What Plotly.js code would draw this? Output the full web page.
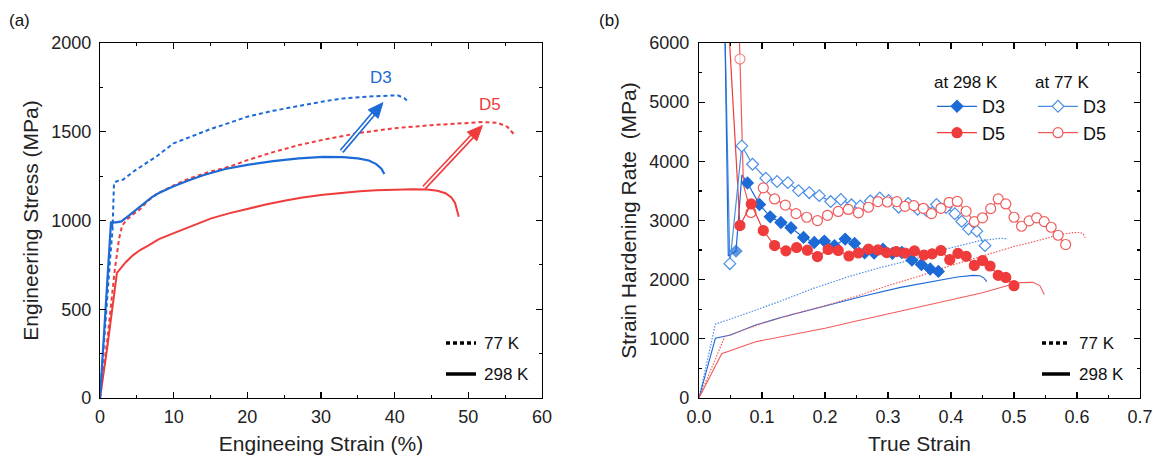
<!DOCTYPE html>
<html><head><meta charset="utf-8">
<script src="https://cdn.plot.ly/plotly-3.0.1.min.js"></script>
<style>html,body{margin:0;padding:0;background:#fff}#chart{width:1153px;height:456px}</style>
</head><body><div id="chart"></div>
<script>
// ---------- Panel (a): engineering stress-strain ----------
const d3_298_strain = [0,0.3,0.8,1.2,1.5,1.6,1.7,2.2,2.9,4,5,6,7,8,9,10,12,14,17,20,23.5,27,30.3,33,35,36.5,37.5,38.2,38.6];
const d3_298_stress = [0,200,530,800,995,960,990,990,995,1030,1065,1100,1130,1155,1175,1193,1225,1255,1290,1313,1335,1350,1358,1357,1350,1338,1318,1292,1262];
const d3_77_strain = [0,0.5,1.0,1.4,1.7,1.9,2.3,3.1,4.5,6,7.7,10,12.2,15,17.7,20,23.5,27,30.3,33,37.1,40.4,41.3,41.9];
const d3_77_stress = [0,300,580,800,946,1212,1222,1229,1275,1318,1362,1435,1470,1515,1552,1585,1618,1647,1671,1688,1700,1705,1690,1666];
const d5_298_strain = [0,0.5,1.0,1.5,2.0,2.3,2.8,3.5,4.5,5.5,6.6,8,10.1,12.5,15.1,17.5,20.2,22.5,25.2,27.5,30.3,33,35.3,37.5,40.3,42.5,44.4,45.8,46.9,47.7,48.2,48.5,48.7];
const d5_298_stress = [0,140,290,450,610,705,730,765,805,835,860,895,930,970,1012,1040,1069,1090,1113,1130,1145,1157,1165,1170,1174,1176,1175,1168,1154,1130,1099,1060,1021];
const d5_77_strain = [0,1.0,2.0,2.6,3.0,3.6,4.5,5.4,6.5,7.7,10,12.2,15,17.7,20,23.5,27,30.3,35,40,45,50,52,54,55.3,56.2];
const d5_77_stress = [0,330,720,900,970,1003,1035,1062,1110,1150,1198,1238,1276,1305,1340,1385,1425,1455,1492,1520,1537,1550,1555,1550,1528,1485];

// ---------- Panel (b): true stress-strain and strain hardening rate ----------
const t_d3_77_e = [0,0.026,0.076,0.13,0.181,0.24,0.29,0.34,0.393,0.446,0.48,0.49];
const t_d3_77_s = [0,1247,1433,1640,1850,2060,2210,2340,2520,2660,2700,2690];
const t_d3_298_e = [0,0.026,0.05,0.09,0.13,0.2,0.26,0.32,0.37,0.41,0.435,0.446,0.452,0.457];
const t_d3_298_s = [0,1010,1065,1235,1360,1560,1720,1870,1970,2045,2072,2065,2030,1966];
const t_d5_77_e = [0,0.041,0.06,0.1,0.15,0.2,0.25,0.3,0.35,0.4,0.45,0.5,0.531,0.573,0.595,0.605,0.61,0.613];
const t_d5_77_s = [0,1040,1110,1260,1420,1560,1720,1900,2060,2240,2400,2560,2640,2764,2795,2798,2770,2710];
const t_d5_298_e = [0,0.036,0.09,0.15,0.2,0.25,0.3,0.35,0.4,0.45,0.49,0.51,0.53,0.541,0.548];
const t_d5_298_s = [0,750,950,1075,1180,1300,1420,1540,1660,1780,1900,1950,1955,1900,1750];

// strain hardening rate, initial drop (line, marker only where flagged)
const sh_d3_298_spike_e = [0.041,0.0465,0.0587,0.068,0.077];
const sh_d3_298_spike_r = [6300,2400,2483,3770,3635];
const sh_d3_298_spike_m = [0,0,1,0,0];
const sh_d3_77_spike_e = [0.041,0.049];
const sh_d3_77_spike_r = [6300,2270];
const sh_d3_77_spike_m = [0,0];
const sh_d5_298_spike_e = [0.047,0.065];
const sh_d5_298_spike_r = [6300,2910];
const sh_d5_298_spike_m = [0,0];
const sh_d5_77_spike_e = [0.0635,0.065,0.0705,0.0825];
const sh_d5_77_spike_r = [6300,5730,3600,3135];
const sh_d5_77_spike_m = [0,1,0,0];

// strain hardening rate with markers
const sh_d3_298_e = [0.077,0.096,0.113,0.130,0.146,0.166,0.183,0.199,0.215,0.232,0.247,0.263,0.278,0.292,0.307,0.322,0.338,0.353,0.367,0.380];
const sh_d3_298_r = [3635,3270,3062,2966,2877,2714,2629,2652,2573,2686,2613,2455,2450,2514,2445,2460,2330,2255,2180,2140];
const sh_d3_77_e = [0.049,0.068,0.085,0.106,0.124,0.141,0.158,0.175,0.191,0.209,0.225,0.242,0.256,0.272,0.287,0.301,0.317,0.332,0.347,0.361,0.377,0.392,0.406,0.417,0.428,0.441,0.454];
const sh_d3_77_r = [2270,4260,3950,3715,3660,3640,3505,3470,3420,3320,3355,3265,3247,3330,3380,3340,3225,3290,3190,3170,3270,3220,3115,2985,2855,2820,2575];
const sh_d5_298_e = [0.065,0.083,0.102,0.120,0.138,0.155,0.172,0.188,0.205,0.221,0.238,0.253,0.269,0.284,0.298,0.313,0.327,0.342,0.357,0.370,0.384,0.398,0.411,0.424,0.437,0.450,0.462,0.475,0.487,0.500];
const sh_d5_298_r = [2915,3280,2830,2577,2487,2544,2498,2390,2510,2493,2400,2451,2515,2502,2457,2474,2450,2485,2416,2436,2493,2338,2445,2395,2240,2324,2231,2072,2038,1898];
const sh_d5_77_e = [0.0825,0.102,0.120,0.137,0.154,0.171,0.188,0.204,0.221,0.237,0.253,0.269,0.284,0.299,0.314,0.327,0.341,0.356,0.369,0.384,0.397,0.410,0.424,0.437,0.450,0.463,0.475,0.487,0.500,0.512,0.524,0.536,0.548,0.559,0.570,0.582];
const sh_d5_77_r = [3135,3552,3364,3260,3116,3055,2998,3088,3153,3187,3130,3224,3319,3313,3319,3240,3252,3206,3116,3206,3308,3322,3156,2981,3046,3201,3364,3280,3055,2903,2993,3046,2981,2886,2751,2594];

// text
const panelLabels = ['(a)','(b)'];
const xTitles = ['Engineeing Strain (%)','True Strain'];
const yTitles = ['Engineering Stress (MPa)','Strain Hardening Rate\u00a0 (MPa)'];
const tempLabels = ['77 K','298 K'];
const sampleLabels = ['D3','D5'];
const legendTitles = ['at 298 K','at 77 K'];

const BLUE='#1c6ad6', BLUEL='#4a8ee6', RED='#ef3b3b', REDL='#f25a5a';
const FONT='Liberation Sans, Arial, sans-serif';

const traces = [];
function line(x,y,color,dash,width,xa,ya){
  traces.push({x:x,y:y,mode:'lines',type:'scatter',xaxis:xa,yaxis:ya,showlegend:false,hoverinfo:'skip',
    line:{color:color,dash:dash,width:width}});
}
// panel (a)
line(d5_298_strain,d5_298_stress,RED,'solid',2,'x','y');
line(d5_77_strain,d5_77_stress,RED,'4px,3px',2,'x','y');
line(d3_77_strain,d3_77_stress,BLUE,'4px,3px',2,'x','y');
line(d3_298_strain,d3_298_stress,BLUE,'solid',2.2,'x','y');
// panel (b) true curves
line(t_d3_77_e,t_d3_77_s,BLUEL,'1.5px,1.5px',1.2,'x2','y2');
line(t_d3_298_e,t_d3_298_s,BLUE,'solid',1.1,'x2','y2');
line(t_d5_77_e,t_d5_77_s,REDL,'1.5px,1.5px',1.2,'x2','y2');
line(t_d5_298_e,t_d5_298_s,REDL,'solid',1.1,'x2','y2');

function spike(e,r,m,color,sym,fill){
  traces.push({x:e,y:r,mode:'lines+markers',type:'scatter',xaxis:'x2',yaxis:'y2',showlegend:false,hoverinfo:'skip',
    line:{color:color,width:1.2},
    marker:{symbol:sym,size:m.map(v=>v?(sym==='diamond'?9:10):0),color:fill,line:{color:color,width:1.2}}});
}
spike(sh_d3_77_spike_e,sh_d3_77_spike_r,sh_d3_77_spike_m,BLUEL,'diamond','#fff');
spike(sh_d3_298_spike_e,sh_d3_298_spike_r,sh_d3_298_spike_m,BLUE,'diamond',BLUE);
spike(sh_d5_77_spike_e,sh_d5_77_spike_r,sh_d5_77_spike_m,REDL,'circle','#fff');
spike(sh_d5_298_spike_e,sh_d5_298_spike_r,sh_d5_298_spike_m,RED,'circle',RED);

function main(e,r,color,sym,fill,name,leg){
  traces.push({x:e,y:r,mode:'lines+markers',type:'scatter',xaxis:'x2',yaxis:'y2',name:name,legend:leg,
    line:{color:color,width:1.2},
    marker:{symbol:sym,size:(sym==='diamond'?9:10),color:fill,line:{color:color,width:1.2}}});
}
main(sh_d3_77_e,sh_d3_77_r,BLUEL,'diamond','#fff',sampleLabels[0],'legend2');
main(sh_d5_77_e,sh_d5_77_r,REDL,'circle','#fff',sampleLabels[1],'legend2');
main(sh_d3_298_e,sh_d3_298_r,BLUE,'diamond',BLUE,sampleLabels[0],'legend');
main(sh_d5_298_e,sh_d5_298_r,RED,'circle',RED,sampleLabels[1],'legend');

// pixel helpers (plot area: top 43, bottom 398)
const W=1153, TOP=43, BOT=398, H=BOT-TOP;
const px=v=>v/W, py=v=>(BOT-v)/H;

const shapes=[], annotations=[];
// arrows in panel (a)
const XS=(542-100)/60, YS=H/2000;
function arrow(x0,y0,x1,y1,color){
  const dx=(x1-x0)*XS, dy=(y1-y0)*YS, L=Math.hypot(dx,dy), ux=dx/L, uy=dy/L;
  const h=15, w=6.5;
  const bx=x1-ux*h/XS, by=y1-uy*h/YS;
  const nx=-uy, ny=ux;
  shapes.push({type:'line',xref:'x',yref:'y',x0:x0,y0:y0,x1:x1-ux*(h-2)/XS,y1:y1-uy*(h-2)/YS,line:{color:color,width:5}});
  shapes.push({type:'line',xref:'x',yref:'y',x0:x0,y0:y0,x1:x1-ux*(h-1)/XS,y1:y1-uy*(h-1)/YS,line:{color:'#fff',width:1.8}});
  const p1x=bx+nx*w/XS, p1y=by+ny*w/YS, p2x=bx-nx*w/XS, p2y=by-ny*w/YS;
  shapes.push({type:'path',xref:'x',yref:'y',path:`M ${x1} ${y1} L ${p1x} ${p1y} L ${p2x} ${p2y} Z`,fillcolor:color,line:{color:color,width:1}});
}
arrow(32.8,1390,38.4,1664,BLUE);
arrow(44.0,1186,51.9,1535,RED);
annotations.push({xref:'x',yref:'y',x:38.1,y:1803,text:sampleLabels[0],showarrow:false,font:{family:FONT,size:17,color:BLUE}});
annotations.push({xref:'x',yref:'y',x:52.9,y:1656,text:sampleLabels[1],showarrow:false,font:{family:FONT,size:17,color:RED}});

// temperature line-style keys
function key(x0,x1,xt){
  shapes.push({type:'line',xref:'paper',yref:'paper',x0:px(x0),x1:px(x1),y0:py(343),y1:py(343),line:{color:'#000',width:3.5,dash:'4px,3px'}});
  shapes.push({type:'line',xref:'paper',yref:'paper',x0:px(x0),x1:px(x1),y0:py(374),y1:py(374),line:{color:'#000',width:3.5}});
  annotations.push({xref:'paper',yref:'paper',x:px(xt),y:py(343),xanchor:'left',yanchor:'middle',text:tempLabels[0],showarrow:false,font:{family:FONT,size:17,color:'#111'}});
  annotations.push({xref:'paper',yref:'paper',x:px(xt),y:py(374),xanchor:'left',yanchor:'middle',text:tempLabels[1],showarrow:false,font:{family:FONT,size:17,color:'#111'}});
}
key(446,476,482);
key(1042,1070,1077);

annotations.push({xref:'paper',yref:'paper',x:px(7),y:py(20),xanchor:'left',yanchor:'middle',text:panelLabels[0],showarrow:false,font:{family:FONT,size:17,color:'#111'}});
annotations.push({xref:'paper',yref:'paper',x:px(597),y:py(20),xanchor:'left',yanchor:'middle',text:panelLabels[1],showarrow:false,font:{family:FONT,size:17,color:'#111'}});

function ax(extra){
  return Object.assign({showline:true,linecolor:'#000',linewidth:1.2,mirror:'allticks',ticks:'inside',ticklen:6,tickwidth:1.2,tickcolor:'#000',
    showgrid:false,zeroline:false,tickfont:{family:FONT,size:18,color:'#222'},fixedrange:true},extra);
}
const tfont={family:FONT,size:21,color:'#222'};
const layout={
  width:1153,height:456,margin:{l:0,r:0,t:TOP,b:456-BOT},paper_bgcolor:'#fff',plot_bgcolor:'#fff',
  font:{family:FONT},
  xaxis:ax({domain:[px(100),px(542)],range:[0,60],dtick:10,tick0:0,ticklabelstandoff:2,minor:{dtick:5,ticklen:3,ticks:'inside',tickcolor:'#000'},
    title:{text:xTitles[0],font:tfont,standoff:10},anchor:'y'}),
  yaxis:ax({domain:[0,1],range:[0,2000],dtick:500,tick0:0,ticklabelstandoff:4,minor:{dtick:250,ticklen:3,ticks:'inside',tickcolor:'#000'},
    title:{text:yTitles[0],font:tfont,standoff:6},anchor:'x'}),
  xaxis2:ax({domain:[px(699),px(1140)],range:[0,0.7],dtick:0.1,tick0:0,tickformat:'.1f',ticklabelstandoff:2,minor:{dtick:0.05,ticklen:3,ticks:'inside',tickcolor:'#000'},
    title:{text:xTitles[1],font:tfont,standoff:10},anchor:'y2'}),
  yaxis2:ax({domain:[0,1],range:[0,6000],dtick:1000,tick0:0,ticklabelstandoff:5,minor:{dtick:500,ticklen:3,ticks:'inside',tickcolor:'#000'},
    title:{text:yTitles[1],font:tfont,standoff:6},anchor:'x2'}),
  legend:{x:px(932),y:py(66),xanchor:'left',yanchor:'top',bgcolor:'rgba(0,0,0,0)',itemwidth:40,tracegroupgap:0,
    title:{text:legendTitles[0],font:{family:FONT,size:17,color:'#111'}},font:{family:FONT,size:18,color:'#111'}},
  legend2:{x:px(1033),y:py(66),xanchor:'left',yanchor:'top',bgcolor:'rgba(0,0,0,0)',itemwidth:40,tracegroupgap:0,
    title:{text:legendTitles[1],font:{family:FONT,size:17,color:'#111'}},font:{family:FONT,size:18,color:'#111'}},
  shapes:shapes,annotations:annotations
};
Plotly.newPlot('chart',traces,layout,{staticPlot:true,displayModeBar:false});
</script></body></html>
